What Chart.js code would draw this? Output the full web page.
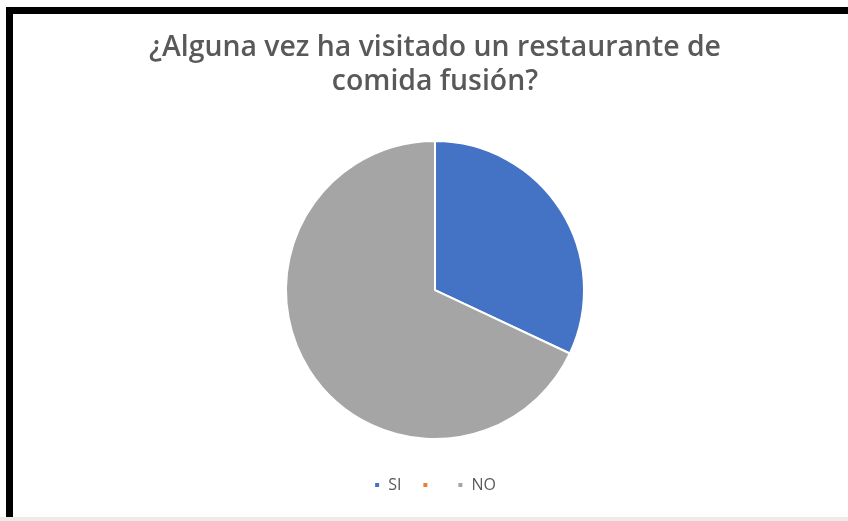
<!DOCTYPE html>
<html lang="es">
<head>
<meta charset="utf-8">
<title>Comida fusión</title>
<script src="https://cdn.jsdelivr.net/npm/chart.js@4.4.1/dist/chart.umd.min.js"></script>
<style>
    html, body {
        margin: 0;
        padding: 0;
        width: 848px;
        height: 521px;
        overflow: hidden;
        background: #ffffff;
    }
    .chart-box {
        position: absolute;
        left: 0;
        top: 0;
        width: 848px;
        height: 503px;
    }
    .frame-top {
        position: absolute;
        left: 6px;
        top: 7px;
        width: 842px;
        height: 7px;
        background: #000;
    }
    .frame-left {
        position: absolute;
        left: 6px;
        top: 7px;
        width: 7px;
        height: 510px;
        background: #000;
    }
    .footer-strip {
        position: absolute;
        left: 0;
        top: 517px;
        width: 848px;
        height: 4px;
        background: #ebebeb;
    }
</style>
</head>
<body>
<div class="chart-box"><canvas id="fusionChart"></canvas></div>
<div class="frame-top"></div>
<div class="frame-left"></div>
<div class="footer-strip"></div>

<script>
const titleLines = ['¿Alguna vez ha visitado un restaurante de', 'comida fusión?'];
const answers = ['SI', '', 'NO'];
const answerShares = [32, 0, 68];
const answerColors = ['#4472C4', '#ED7D31', '#A5A5A5'];

document.addEventListener('DOMContentLoaded', () => {
    const ctx = document.getElementById('fusionChart').getContext('2d');

    new Chart(ctx, {
        type: 'pie',
        data: {
            labels: answers,
            datasets: [{
                data: answerShares,
                backgroundColor: answerColors,
                borderColor: '#ffffff',
                borderWidth: 2,
                radius: 149
            }]
        },
        options: {
            responsive: true,
            maintainAspectRatio: false,
            animation: false,
            layout: {
                padding: { top: 31, left: 22, right: 0, bottom: 0 }
            },
            plugins: {
                title: {
                    display: true,
                    text: titleLines,
                    color: '#595959',
                    font: { family: '"Open Sans", sans-serif', size: 28.4, weight: '600', lineHeight: 1.2 },
                    padding: { top: 0, bottom: 25 }
                },
                legend: {
                    position: 'bottom',
                    labels: {
                        color: '#595959',
                        font: { family: '"Open Sans", sans-serif', size: 16 },
                        boxWidth: 6,
                        boxHeight: 6,
                        padding: 21
                    }
                },
                tooltip: { enabled: false }
            }
        }
    });
});
</script>
</body>
</html>
